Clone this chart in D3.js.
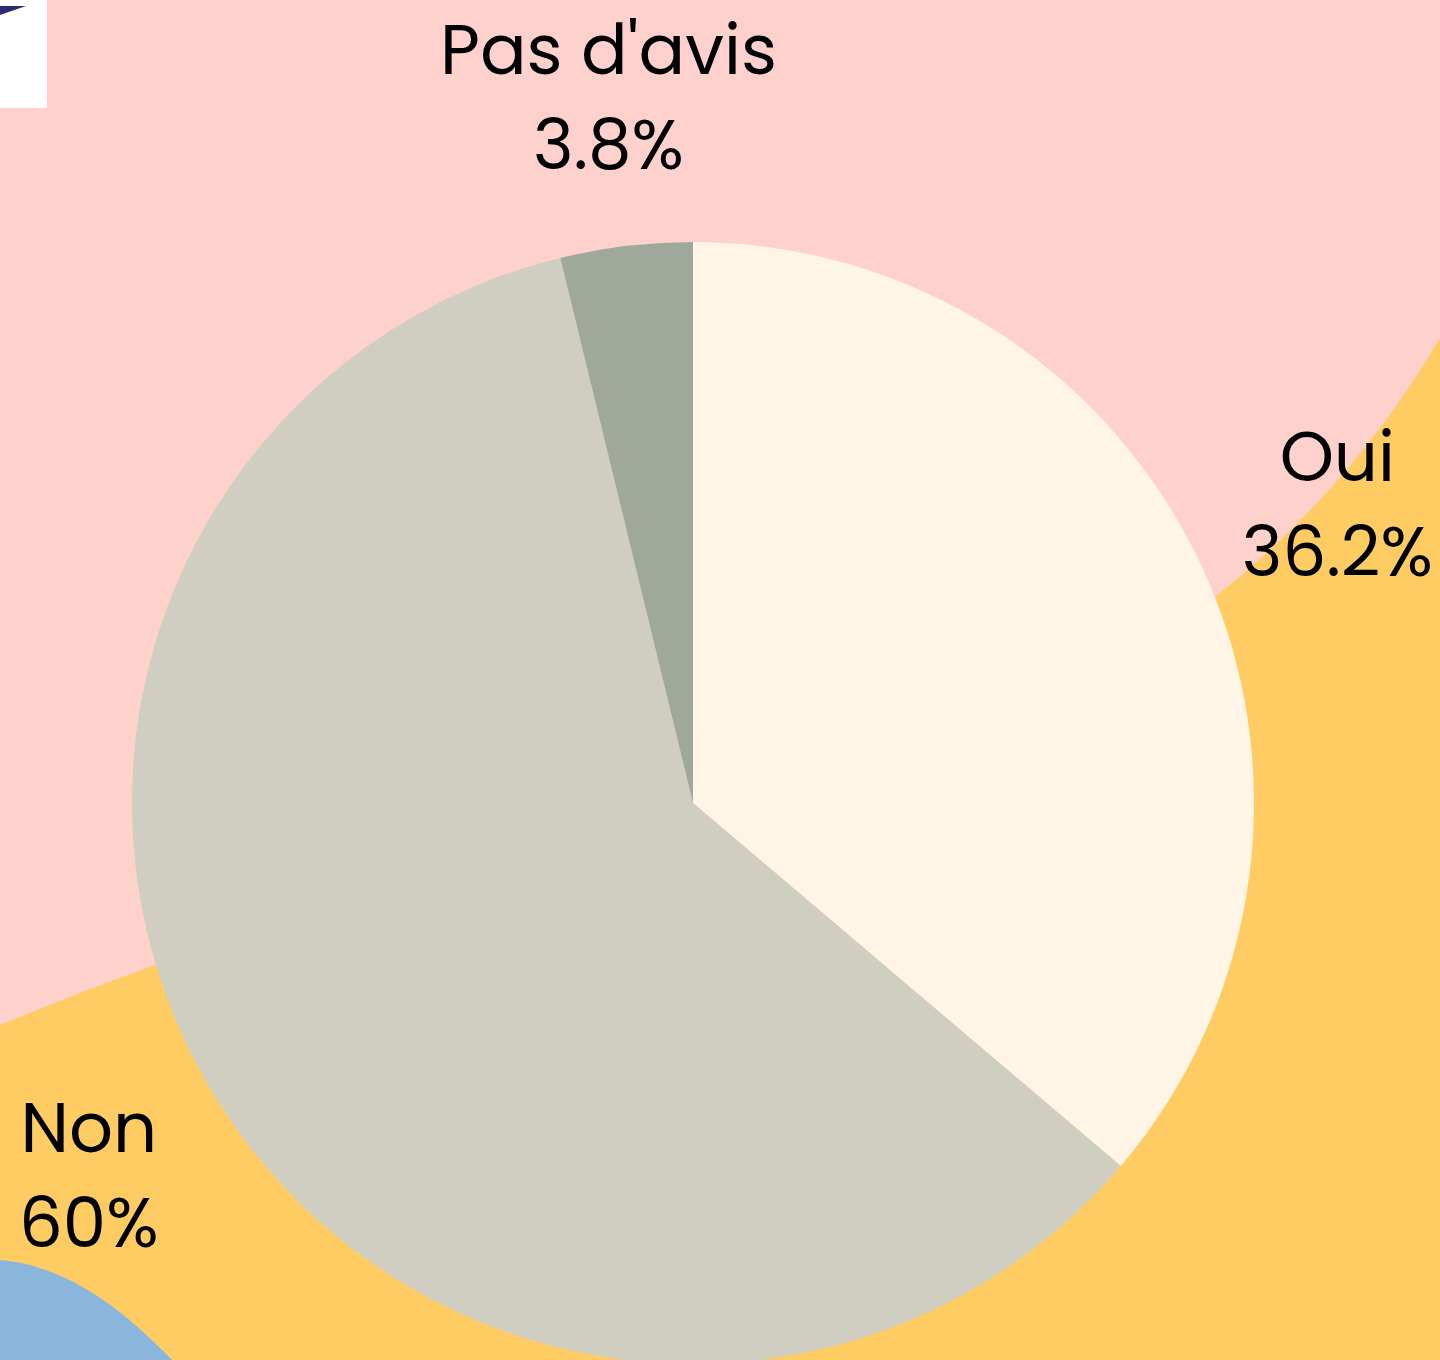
<!DOCTYPE html>
<html>
<head>
<meta charset="utf-8">
<script src="https://cdn.jsdelivr.net/npm/d3@7"></script>
<style>
  html, body { margin: 0; padding: 0; background: #FFD1CC; }
  svg { display: block; }
</style>
</head>
<body>
<svg id="chart" width="1440" height="1360"></svg>
<script>
const categories = ["Oui", "Non", "Pas d'avis"];
const values = [36.2, 60, 3.8];
const valueLabels = ["36.2%", "60%", "3.8%"];
const sliceColors = ["#FFF5E6", "#CFCEC0", "#A0A89C"];

const W = 1440, H = 1360;
const cx = 693, cy = 803, R = 561, labelR = 710;

const svg = d3.select("#chart");

// background
svg.append("rect").attr("width", W).attr("height", H).attr("fill", "#FFD1CC");

// decorative yellow blob
svg.append("path")
  .attr("d", "M1440,338 Q1352,488 1215,597 L693,803 L155,965 Q80,992 0,1025 L0,1360 L1440,1360 Z")
  .attr("fill", "#FFCC63");

// decorative blue blob
svg.append("path")
  .attr("d", "M0,1260 C70,1266 125,1312 172,1360 L0,1360 Z")
  .attr("fill", "#8AB6DD");

// top-left logo box
svg.append("rect").attr("x", 0).attr("y", 0).attr("width", 47).attr("height", 108).attr("fill", "#FFFFFF");
svg.append("path").attr("d", "M0,6 L26,6 L0,15 Z").attr("fill", "#2E2A72");

const pie = d3.pie().sort(null).value(d => d)(values);
const arc = d3.arc().innerRadius(0).outerRadius(R);

const g = svg.append("g").attr("transform", `translate(${cx},${cy})`);
g.selectAll("path.slice")
  .data(pie)
  .join("path")
  .attr("class", "slice")
  .attr("d", arc)
  .attr("fill", (d, i) => sliceColors[i]);

const labelArc = d3.arc().innerRadius(labelR).outerRadius(labelR);
const labels = g.selectAll("text.lbl")
  .data(pie)
  .join("text")
  .attr("class", "lbl")
  .attr("text-anchor", "middle")
  .attr("font-family", "'Poppins', 'Open Sans', sans-serif")
  .attr("font-size", 69)
  .attr("fill", "#000")
  .attr("transform", d => { const c = labelArc.centroid(d); return `translate(${c[0]},${c[1]})`; });
labels.append("tspan").attr("x", 0).attr("y", -24).text((d, i) => categories[i]);
labels.append("tspan").attr("x", 0).attr("y", 71).text((d, i) => valueLabels[i]);
</script>
</body>
</html>
